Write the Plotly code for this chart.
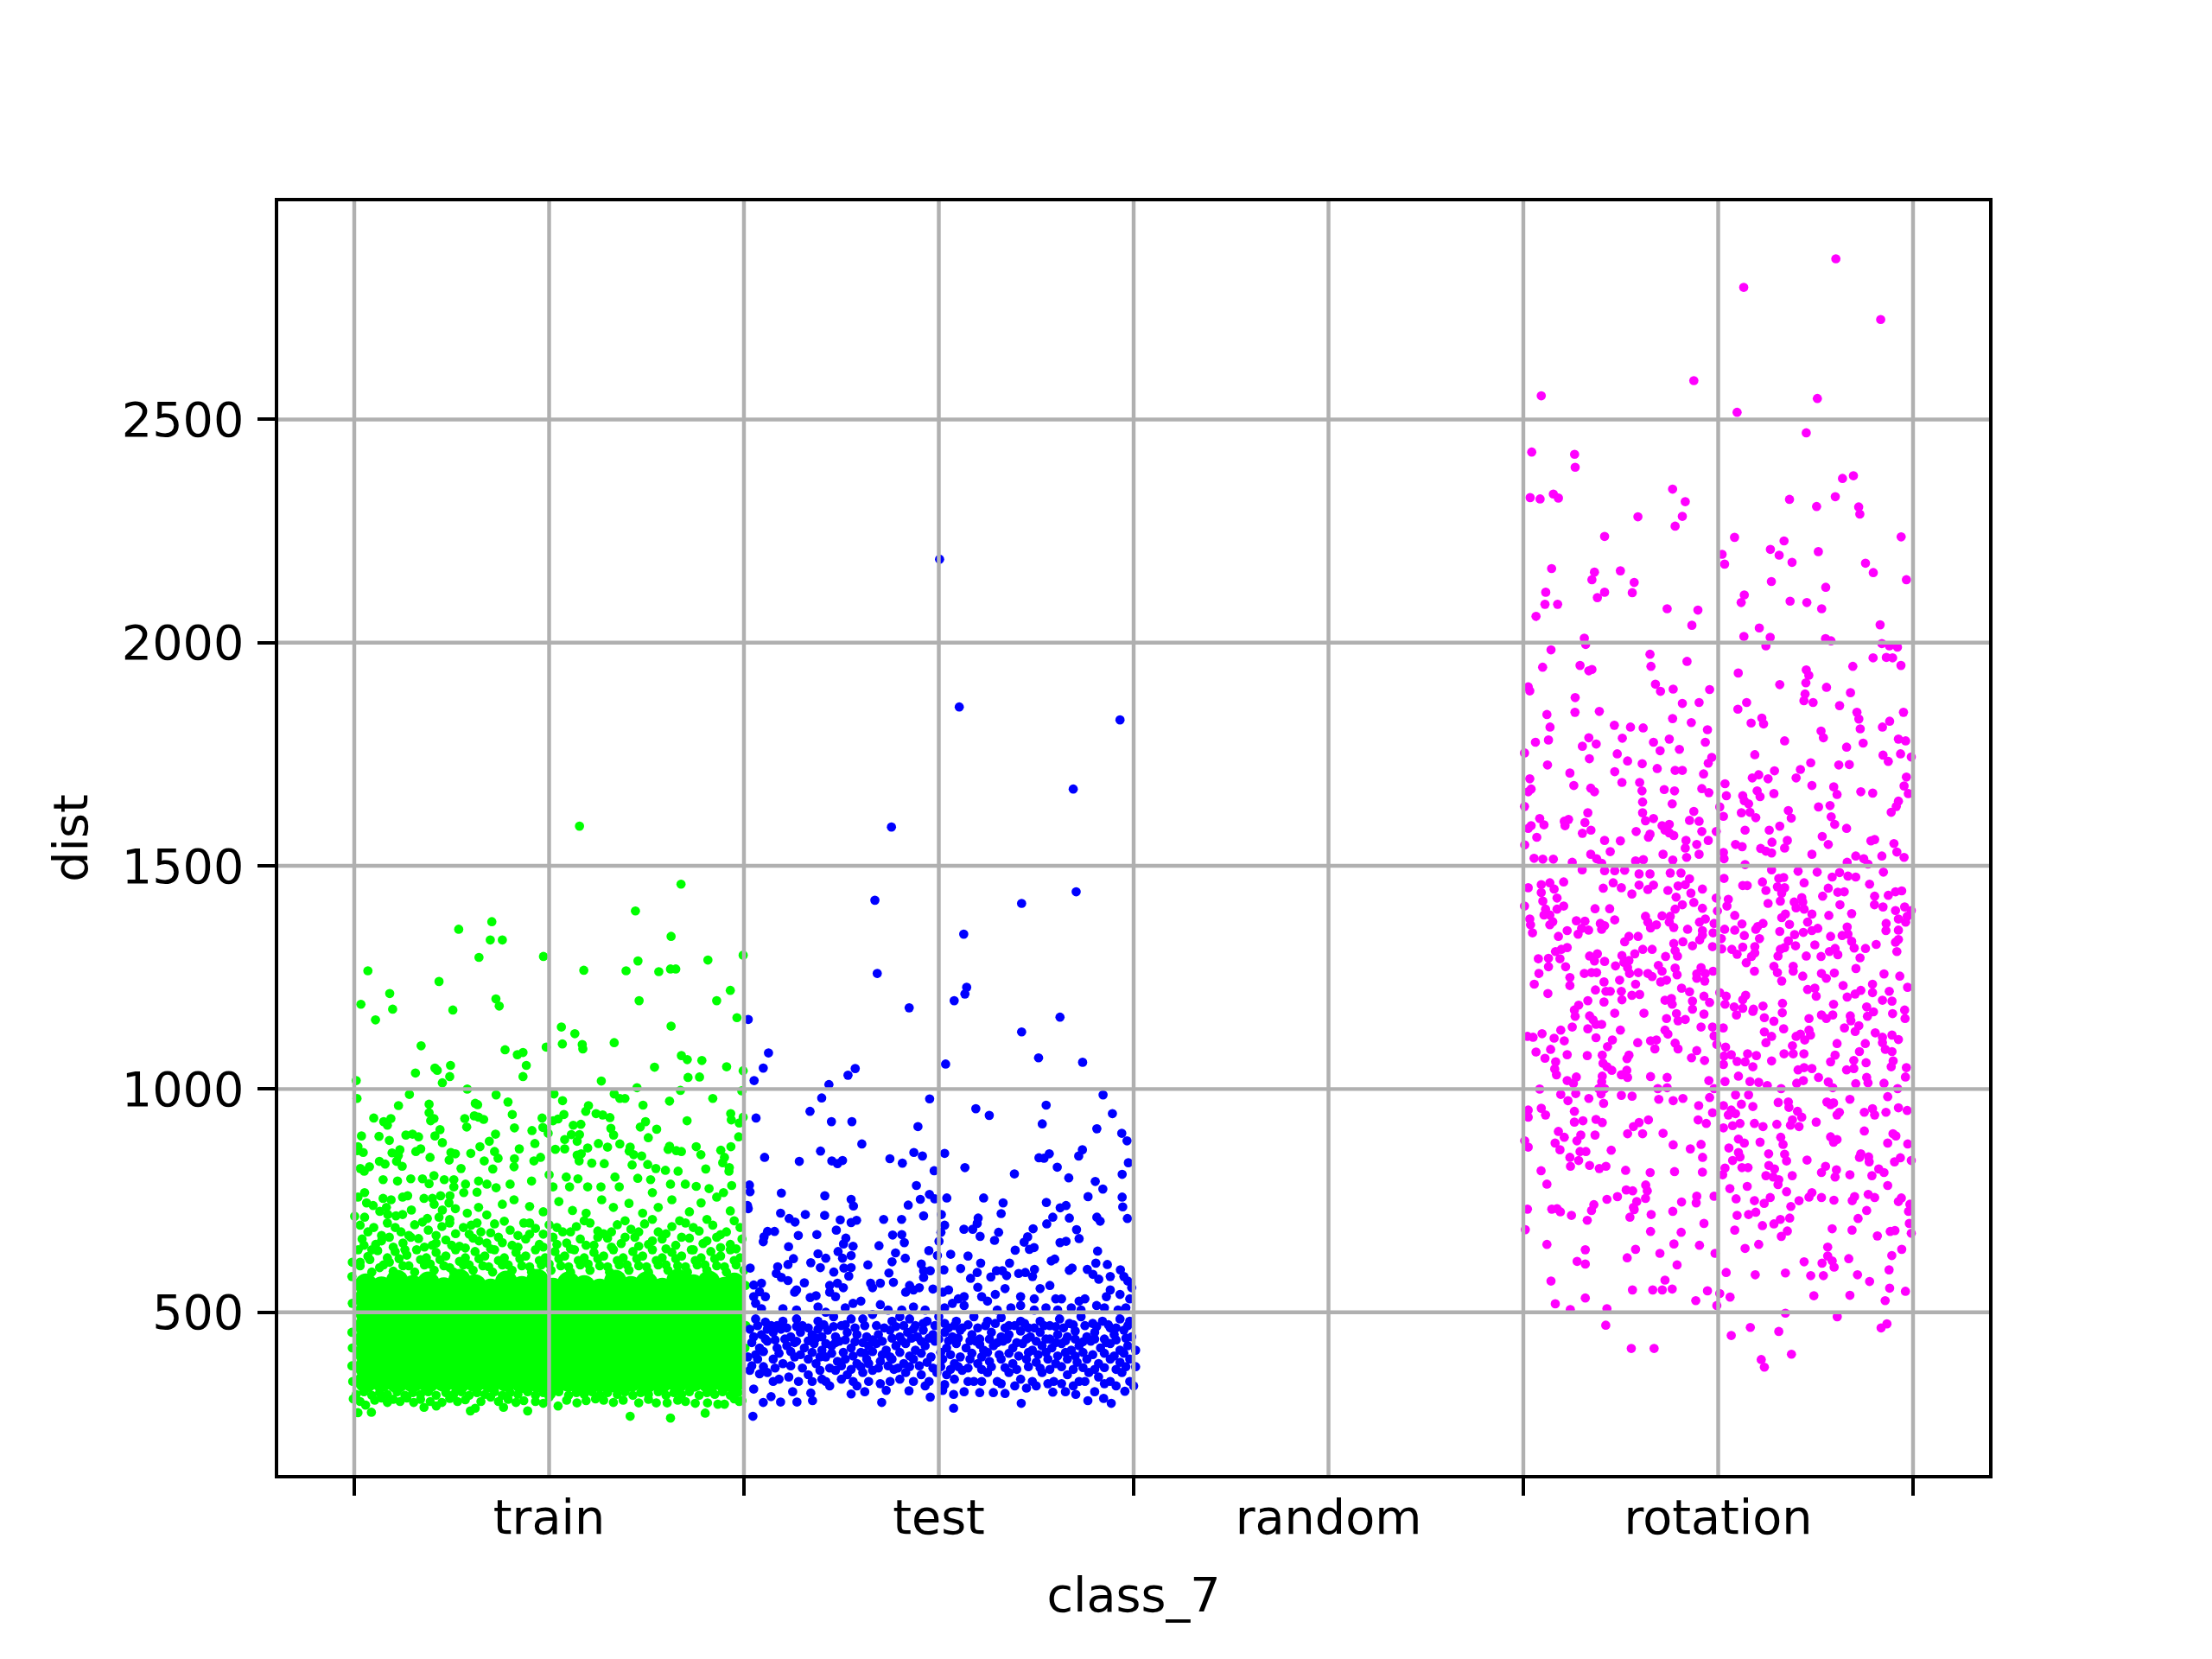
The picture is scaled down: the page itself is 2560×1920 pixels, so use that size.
import plotly.graph_objects as go

x_labels = ["train", "test", "random", "rotation"]
x_label_pos = [1, 3, 5, 7]
x_tick_pos = [0, 2, 4, 6, 8]
y_ticks = [500, 1000, 1500, 2000, 2500]

train_mass = [(.06,345),(.14,347),(.22,344),(.3,346),(.38,345),(.46,347),(.54,344),(.62,346),(.7,345),(.78,347),(.86,344),(.94,346),(1.02,345),(1.1,347),(1.18,344),(1.26,346),(1.34,345),(1.42,347),(1.5,344),(1.58,346),(1.66,345),(1.74,347),(1.82,344),(1.9,346),(1.95,345),
(.06,377),(.14,376),(.22,378),(.3,376),(.38,377),(.46,376),(.54,378),(.62,376),(.7,377),(.78,376),(.86,378),(.94,376),(1.02,377),(1.1,376),(1.18,378),(1.26,376),(1.34,377),(1.42,376),(1.5,378),(1.58,376),(1.66,377),(1.74,376),(1.82,378),(1.9,376),(1.95,377),
(.06,408),(.14,407),(.22,409),(.3,407),(.38,408),(.46,407),(.54,409),(.62,407),(.7,408),(.78,407),(.86,409),(.94,407),(1.02,408),(1.1,407),(1.18,409),(1.26,407),(1.34,408),(1.42,407),(1.5,409),(1.58,407),(1.66,408),(1.74,407),(1.82,409),(1.9,407),(1.95,408),
(.06,439),(.14,438),(.22,440),(.3,438),(.38,439),(.46,438),(.54,440),(.62,438),(.7,439),(.78,438),(.86,440),(.94,438),(1.02,439),(1.1,438),(1.18,440),(1.26,438),(1.34,439),(1.42,438),(1.5,440),(1.58,438),(1.66,439),(1.74,438),(1.82,440),(1.9,438),(1.95,439),
(.06,470),(.14,469),(.22,471),(.3,469),(.38,470),(.46,469),(.54,471),(.62,469),(.7,470),(.78,469),(.86,471),(.94,469),(1.02,470),(1.1,469),(1.18,471),(1.26,469),(1.34,470),(1.42,469),(1.5,471),(1.58,469),(1.66,470),(1.74,469),(1.82,471),(1.9,469),(1.95,470),
(.06,501),(.14,500),(.22,502),(.3,500),(.38,501),(.46,500),(.54,502),(.62,500),(.7,501),(.78,500),(.86,502),(.94,500),(1.02,501),(1.1,500),(1.18,502),(1.26,500),(1.34,501),(1.42,500),(1.5,502),(1.58,500),(1.66,501),(1.74,500),(1.82,502),(1.9,500),(1.95,501),
(.06,532),(.14,531),(.22,533),(.3,531),(.38,532),(.46,531),(.54,533),(.62,531),(.7,532),(.78,531),(.86,533),(.94,531),(1.02,532),(1.1,531),(1.18,533),(1.26,531),(1.34,532),(1.42,531),(1.5,533),(1.58,531),(1.66,532),(1.74,531),(1.82,533),(1.9,531),(1.95,532),
(.06,562),(.14,555),(.22,570),(.3,558),(.38,566),(.46,553),(.54,572),(.62,560),(.7,550),(.78,568),(.86,556),(.94,572),(1.02,552),(1.1,566),(1.18,558),(1.26,550),(1.34,570),(1.42,556),(1.5,566),(1.58,552),(1.66,572),(1.74,560),(1.82,568),(1.9,554),(1.95,564)]

train_points = [(1.156,1589),(1.677,1459),(1.443,1399),(1.626,1342),(.706,1375),(.536,1358),(.698,1334),(.76,1334),(.64,1295),(.971,1297),(1.996,1300),(1.456,1287),(1.815,1289),(.07,1265),(1.178,1266),(1.395,1265),(1.563,1263),(1.623,1269),(1.65,1269),(.435,1241),(.182,1214),(.034,1190),(.197,1179),(.109,1155),(.506,1177),(.727,1202),(.744,1186),(1.462,1198),(1.86,1198),(1.93,1221),(1.964,1160),(1.626,1141),(1.063,1139),(1.132,1124),(1.068,1101),(1.17,1100),(1.173,1090),(1.334,1104),(.985,1094),(.343,1097),(.774,1088),(.837,1077),(.866,1082),(.883,1053),(.866,1028),(.494,1053),(.414,1047),(.426,1042),(.49,1028),(.452,1014),(.314,1036),(.01,1019),(1.268,1018),(1.541,1049),(1.679,1075),(1.709,1066),(1.784,1064),(1.911,1050),(1.996,1041),(1.713,1026),(1.772,1027),(1.451,1003),(1.674,997),(.58,1000),(1.989,996),
(.283,988),(.728,987),(1.025,989),(1.334,989),(1.363,979),(1.389,979),(.014,979),(1.069,974),(.789,971),(1.84,979),(1.618,973),(.384,966),(.227,963),(.621,968),(.633,965),(1.202,963),(1.482,964),(1.188,950),(1.241,945),(1.275,942),(1.312,936),(.384,947),(.811,943),(1.076,943),(1.932,945),(.1,935),(.188,934),(.151,927),(.17,919),(.392,929),(.409,934),(.567,934),(.616,940),(.638,937),(.664,932),(.964,935),(1.046,933),(1.02,929),(1.495,927),(1.468,915),(1.552,910),(1.708,929),(1.935,931),(1.996,937),(1.976,924),(.577,915),(.44,909),(.414,895),(.822,913),(.912,907),(.968,914),(.995,901),(1.124,919),(1.163,921),(1.317,912),(1.331,897),(1.114,898),(1.156,898),(.037,895),(.127,894),(.18,885),(.265,897),(.299,899),(.33,893),(.725,899),(.693,883),(.452,880),(1.08,887),(1.144,883),(1.509,891),(1.973,893),(.927,878),(1.363,877),(1.253,878),(1.3,870),(1.198,868),(.645,871),(1.618,872),(1.755,871),(1.933,871),(.847,866),(1.032,865),(1.08,866),(1.416,870),(1.611,865),(1.653,862),(1.679,860),(1.881,863),(.019,871),(.015,862),(.046,858),(.194,857),(.234,864),(.226,851),(.316,860),(.341,866),(.496,858),(.519,855),(.598,856),(.72,860),(.389,847),(.487,841),(.738,845),(.956,847),(.922,839),(.822,844),(1.144,852),(1.165,855),(1.154,839),(1.219,834),(1.283,833),(1.411,861),(1.434,853),(1.475,850),(1.779,853),(1.9,847),(1.891,835),(.129,838),(.158,832),(.217,838),(.246,827),(.078,826),(.031,822),(.051,816),(.667,839),(.548,822),(.711,821),(.82,826),(1.426,830),(1.506,831),(1.548,822),(1.804,821),(1.925,824),(1.597,818),(1.662,816),(1.923,816),
(.148,797),(.222,794),(.29,799),(.35,799),(.409,806),(.384,788),(.462,797),(.511,797),(.511,781),(.571,787),(.638,794),(.681,787),(.728,779),(.8,787),(.91,794),(1.0,808),(1.088,803),(1.148,799),(1.02,781),(1.105,781),(1.198,781),(1.266,781),(1.338,803),(1.36,781),(1.455,800),(1.521,797),(1.53,768),(1.623,787),(1.699,787),(1.755,782),(1.821,777),(1.895,768),(1.937,784),
(.053,768),(.019,758),(.148,755),(.248,758),(.189,752),(.274,761),(.165,735),(.063,745),(.097,739),(.131,726),(.053,713),(.002,715),(.358,755),(.443,761),(.401,755),(.491,761),(.562,768),(.63,769),(.486,745),(.41,742),(.452,729),(.519,732),(.638,735),(.293,729),(.248,719),(.214,716),(.172,719),(.375,710),(.435,713),(.49,708),(.58,722),(.68,718),(.76,742),(.82,752),(.9,737),(.97,725),(1.05,748),(1.12,728),(1.19,722),(1.27,752),(1.33,735),(1.41,744),(1.48,722),(1.56,735),(1.63,752),(1.72,725),(1.78,745),(1.86,758),(1.93,727),
(.03,695),(.1,690),(.17,700),(.24,680),(.31,696),(.38,684),(.45,692),(.52,676),(.6,695),(.65,680),(.72,698),(.8,684),(.87,700),(.93,688),(1.0,696),(1.07,680),(1.14,692),(1.21,700),(1.28,676),(1.35,696),(1.42,686),(1.49,698),(1.56,680),(1.63,692),(1.7,700),(1.77,682),(1.84,695),(1.91,680),(1.98,690),
(.04,664),(.11,652),(.18,668),(.25,655),(.33,665),(.4,650),(.47,662),(.54,648),(.61,666),(.68,655),(.74,668),(.81,650),(.88,664),(.95,652),(1.02,668),(1.09,655),(1.16,664),(1.23,650),(1.3,666),(1.37,654),(1.44,668),(1.51,652),(1.58,664),(1.65,650),(1.72,666),(1.79,654),(1.86,668),(1.93,652),(1.99,664),
(.02,640),(.07,625),(.12,638),(.17,622),(.21,636),(.27,628),(.32,640),(.37,622),(.42,634),(.47,626),(.52,640),(.57,622),(.62,636),(.67,626),(.72,640),(.77,622),(.83,634),(.88,626),(.93,640),(.98,622),(1.03,636),(1.08,626),(1.13,640),(1.18,622),(1.23,634),(1.28,626),(1.33,640),(1.38,622),(1.43,636),(1.48,626),(1.53,640),(1.58,622),(1.63,634),(1.68,626),(1.73,640),(1.78,622),(1.83,636),(1.88,626),(1.93,640),(1.98,622),
(.03,604),(.09,590),(.15,606),(.2,592),(.25,604),(.31,590),(.36,606),(.41,594),(.46,604),(.51,590),(.56,606),(.61,594),(.66,604),(.71,590),(.76,606),(.81,594),(.86,604),(.91,590),(.96,606),(1.01,594),(1.06,604),(1.11,590),(1.16,606),(1.21,594),(1.26,604),(1.31,590),(1.36,606),(1.41,594),(1.46,604),(1.51,590),(1.56,606),(1.61,594),(1.66,604),(1.71,590),(1.76,606),(1.81,594),(1.86,604),(1.91,590),(1.96,606),(2.0,594),
(-.01,612),(-.012,580),(-.01,520),(-.012,455),(-.01,420),(-.012,380),(-.008,345),(2.008,560),(2.01,470),(-.005,306),(2.005,420),
(.019,275),(.088,276),(.358,287),(.421,290),(.596,279),(.621,285),(.766,287),(.89,279),(1.046,290),(1.143,297),(1.238,306),(1.416,267),(1.623,263),(1.801,274),(1.606,297),(1.66,303),(1.813,297),(1.866,294),(1.9,294),(1.976,300),(.058,292),(.03,300),(.105,303),(.14,308),(.17,298),(.2,305),(.235,300),(.27,308),(.305,298),(.34,305),(.39,300),(.45,298),(.49,307),(.53,300),(.57,304),(.65,300),(.7,310),(.74,300),(.79,305),(.83,298),(.87,302),(.93,300),(.97,296),(1.0,310),(1.09,303),(1.19,302),(1.28,303),(1.33,298),(1.38,303),(1.46,297),(1.51,305),(1.55,297),(1.7,300),(1.75,296),(1.95,306),(1.99,302),
(.01,316),(.05,322),(.09,314),(.13,320),(.17,316),(.22,322),(.26,314),(.3,320),(.34,316),(.38,322),(.42,314),(.47,320),(.51,316),(.55,322),(.59,314),(.63,320),(.67,316),(.72,322),(.76,314),(.8,320),(.84,316),(.89,322),(.93,314),(.97,320),(1.01,316),(1.05,322),(1.1,314),(1.14,320),(1.18,316),(1.22,322),(1.26,314),(1.3,320),(1.35,316),(1.39,322),(1.43,314),(1.47,320),(1.51,316),(1.56,322),(1.6,314),(1.64,320),(1.68,316),(1.72,322),(1.77,314),(1.81,320),(1.85,316),(1.89,322),(1.93,314),(1.97,320),
(.03,612),(.08,618),(.13,600),(.18,612),(.23,620),(.28,604),(.34,618),(.39,608),(.44,618),(.49,600),(.54,614),(.59,606),(.64,620),(.69,602),(.74,616),(.79,606),(.85,620),(.9,602),(.95,616),(1.0,608),(1.05,620),(1.1,602),(1.15,616),(1.2,608),(1.25,620),(1.3,602),(1.35,616),(1.4,606),(1.45,620),(1.5,602),(1.55,616),(1.6,606),(1.65,620),(1.7,602),(1.75,616),(1.8,606),(1.85,620),(1.9,602),(1.95,616),
(.05,650),(.09,640),(.14,660),(.2,646),(.26,640),(.29,668),(.36,646),(.42,655),(.5,650),(.57,644),(.59,675),(.64,660),(.7,642),(.76,656),(.84,646),(.9,675),(.97,646),(1.04,652),(1.11,642),(1.19,650),(1.25,668),(1.32,646),(1.39,668),(1.46,648),(1.53,660),(1.6,642),(1.68,668),(1.74,640),(1.81,660),(1.88,645),(1.96,642),
(.07,680),(.14,672),(.21,690),(.28,672),(.35,702),(.42,672),(.49,700),(.56,690),(.63,700),(.7,678),(.77,704),(.84,672),(.9,700),(.97,675),(1.04,690),(1.11,680),(1.18,705),(1.25,682),(1.32,680),(1.39,705),(1.46,680),(1.53,708),(1.6,676),(1.67,705),(1.74,690),(1.81,708),(1.88,674),(1.95,705)]

test_points = [(3.004,2187),(3.105,1856),(3.93,1827),(3.69,1672),(2.757,1587),(2.672,1423),(3.705,1442),(3.425,1416),(3.128,1347),(2.684,1259),(3.143,1228),(3.134,1213),(3.079,1198),(2.848,1182),(3.622,1161),(3.425,1128),(3.512,1070),(3.738,1060),(3.035,1056),
(2.022,1156),(2.126,1081),(2.099,1047),(2.052,1019),(2.571,1046),(2.534,1031),(2.436,1010),(2.399,980),(2.953,978),(3.843,987),(3.551,964),(3.19,956),(3.259,941),(3.891,945),(2.339,950),(2.449,927),(2.554,927),(2.062,935),(2.893,916),(3.531,922),(3.811,911),(3.939,901),(3.966,884),(2.605,877),(2.393,861),(2.106,847),(2.284,838),(2.451,839),(2.48,833),(2.506,840),(2.749,844),(2.813,834),(2.872,858),(2.916,850),(3.03,856),(2.976,817),(3.134,824),(3.388,810),(3.514,846),(3.54,845),(3.567,855),(3.608,825),(3.667,801),(3.718,850),(3.737,864),(3.973,835),(3.941,809),(3.803,793),(3.842,776),(3.766,759),(3.941,758),(3.944,736),(3.968,710),
(2.028,785),(2.031,770),(2.192,767),(2.415,761),(2.55,753),(2.562,738),(2.885,784),(2.905,753),(2.952,764),(2.979,754),(3.041,756),(3.23,756),(3.33,745),(3.32,721),(2.843,740),(2.922,716),(3.013,719),(3.552,746),(3.623,734),(3.653,739),(3.585,713),(3.554,698),(3.67,711),(3.707,685),(3.72,665),(3.811,713),(3.828,704),(2.018,739),(2.022,732),(2.188,722),(2.232,710),(2.262,702),(2.315,719),(2.414,717),(2.494,707),(2.55,701),(2.578,706),(2.717,708),(2.809,708),(3.03,695),(3.011,679),(3.129,686),(3.174,686),(3.197,699),(3.202,711),(3.212,670),(3.307,679),(3.286,661),(3.484,687),(3.456,669),(3.438,657),
(2.121,681),(2.157,681),(2.099,658),(2.103,669),(2.279,672),(2.374,674),(2.474,684),(2.523,666),(2.511,653),(2.56,648),(2.763,673),(2.81,674),(2.823,656),(2.693,649),(3.001,659),(2.229,647),(3.622,656),(3.653,659),(3.465,641),(3.489,645),(3.392,639),(3.815,637),
(2.38,631),(2.483,636),(2.55,627),(2.42,621),(2.254,620),(2.778,633),(2.828,621),(2.949,638),(2.993,627),(3.061,630),(3.15,626),(2.76,613),(2.226,607),(2.343,611),(2.506,621),(3.215,610),(3.363,610),(3.577,615),(3.595,619),(3.806,610),(3.865,607),(2.636,606),(2.91,608),
(2.032,599),(2.173,602),(2.392,600),(2.461,590),(2.513,599),(2.55,600),(2.538,581),(2.166,587),(2.192,578),(2.226,571),(2.744,588),(2.767,567),(2.922,593),(2.956,593),(2.922,578),(3.112,598),(3.026,595),(3.197,589),(3.163,576),(3.267,579),(3.296,593),(3.326,593),(3.348,582),(3.41,587),(3.444,589),(3.491,596),(3.481,580),(3.67,594),(3.684,599),(3.762,596),(3.791,585),(3.821,574),(3.88,580),(3.932,595),(3.95,580),
(2.05,561),(2.09,565),(2.08,546),(2.05,535),(2.11,535),(2.06,520),(2.31,566),(2.27,550),(2.26,545),(2.44,560),(2.48,565),(2.51,555),(2.47,535),(2.44,545),(2.37,537),(2.34,533),(2.65,565),(2.7,565),(2.66,555),(2.85,560),(2.87,550),(2.9,555),(2.83,545),(2.97,552),(3.02,545),(3.05,550),(3.1,530),(3.13,535),(3.2,556),(3.22,535),(3.25,525),(3.29,540),(3.34,553),(3.42,535),(3.49,530),(3.52,553),(3.57,560),(3.6,530),(3.63,530),(3.72,525),(3.75,530),(3.86,535),(3.88,550),(3.93,540),(3.97,570),(3.99,555),(3.98,530),
(2.09,508),(2.2,508),(2.27,505),(2.38,512),(2.42,500),(2.52,510),(2.56,520),(2.6,525),(2.7,517),(2.74,505),(2.81,505),(2.87,512),(2.93,505),(3.03,510),(3.07,520),(3.13,515),(3.3,505),(3.37,510),(3.42,515),(3.49,505),(3.55,510),(3.61,505),(3.68,510),(3.73,505),(3.81,515),(3.85,510),(3.92,505),(3.96,510),
(2.06,485),(2.11,478),(2.14,470),(2.2,480),(2.27,485),(2.3,470),(2.38,480),(2.46,490),(2.5,470),(2.55,485),(2.61,485),(2.66,495),(2.76,480),(2.8,490),(2.85,485),(2.88,470),(2.94,480),(3.0,490),(3.03,475),(3.09,480),(3.12,465),(3.18,490),(3.25,480),(3.32,488),(3.36,470),(3.42,480),(3.46,465),(3.52,480),(3.57,470),(3.62,485),(3.67,475),(3.73,490),(3.79,475),(3.84,480),(3.88,465),(3.93,485),(3.97,470),
(2.03,462),(2.09,450),(2.15,455),(2.19,462),(2.24,445),(2.29,455),(2.35,450),(2.4,445),(2.43,460),(2.47,445),(2.53,455),(2.58,450),(2.63,445),(2.69,450),(2.75,460),(2.8,445),(2.84,455),(2.89,445),(2.92,460),(2.97,450),(3.03,455),(3.07,445),(3.11,460),(3.17,450),(3.21,440),(3.27,455),(3.32,445),(3.36,450),(3.42,458),(3.47,445),(3.52,455),(3.57,440),(3.61,450),(3.66,445),(3.7,458),(3.76,445),(3.8,455),(3.85,440),(3.9,450),(3.95,460),(3.99,445),
(2.04,432),(2.08,420),(2.12,435),(2.17,420),(2.22,425),(2.27,435),(2.31,420),(2.36,430),(2.4,415),(2.45,425),(2.49,435),(2.55,420),(2.6,410),(2.64,425),(2.68,430),(2.73,415),(2.78,425),(2.83,430),(2.88,415),(2.93,425),(2.98,435),(3.04,420),(3.09,430),(3.14,420),(3.19,435),(3.23,415),(3.28,425),(3.33,435),(3.38,420),(3.43,430),(3.48,415),(3.53,425),(3.58,420),(3.63,430),(3.68,415),(3.72,425),(3.78,435),(3.83,420),(3.88,430),(3.93,415),(3.97,425),(4.01,415),
(2.02,400),(2.07,395),(2.15,395),(2.2,385),(2.26,400),(2.33,395),(2.37,385),(2.42,400),(2.48,390),(2.52,395),(2.58,385),(2.63,395),(2.7,390),(2.76,395),(2.82,385),(2.87,395),(2.94,388),(3.02,395),(3.08,385),(3.16,395),(3.2,385),(3.26,390),(3.32,395),(3.38,385),(3.45,395),(3.5,388),(3.56,395),(3.6,385),(3.66,395),(3.71,388),(3.76,395),(3.82,385),(3.88,395),(3.93,388),(3.98,395),
(2.03,370),(2.08,362),(2.12,365),(2.18,350),(2.33,360),(2.35,345),(2.47,370),(2.53,360),(2.56,345),(2.61,365),(2.66,370),(2.77,372),(2.83,365),(2.91,360),(2.95,345),(2.99,365),(3.04,360),(3.08,350),(3.12,370),(3.18,345),(3.25,365),(3.3,345),(3.36,365),(3.42,350),(3.48,345),(3.53,365),(3.59,345),(3.66,360),(3.72,345),(3.77,365),(3.82,355),(3.88,345),(3.94,365),(3.98,345),
(2.046,267),(2.707,298),(3.076,285),(2.956,310),(3.423,296),(3.765,302),(3.846,307),(3.885,296),(2.099,298),(2.139,311),(2.188,299),(2.272,299),(2.352,302),(2.343,319),(2.55,317),(2.847,324),(3.076,316),(3.703,316),(3.585,321),(3.955,323),(2.05,328),(2.25,322),(2.44,335),(2.62,322),(2.73,325),(3.02,325),(3.13,322),(3.21,320),(3.28,320),(3.34,318),(3.45,330),(3.65,322),(3.8,322),
(2.06,405),(2.1,412),(2.18,408),(2.24,412),(2.29,405),(2.35,410),(2.39,400),(2.45,408),(2.51,410),(2.56,402),(2.62,408),(2.66,412),(2.71,405),(2.75,400),(2.8,410),(2.85,402),(2.91,408),(2.96,400),(3.01,410),(3.06,405),(3.11,400),(3.17,408),(3.22,400),(3.25,410),(3.31,405),(3.36,408),(3.41,402),(3.46,410),(3.51,405),(3.55,410),(3.61,402),(3.65,410),(3.7,402),(3.74,410),(3.79,405),(3.85,408),(3.9,402),(3.95,408),
(2.05,445),(2.11,440),(2.16,438),(2.21,440),(2.26,432),(2.33,436),(2.37,442),(2.42,430),(2.47,432),(2.52,438),(2.57,434),(2.61,432),(2.66,438),(2.71,435),(2.76,442),(2.81,436),(2.86,442),(2.91,435),(2.95,442),(3.0,440),(3.05,436),(3.1,442),(3.16,436),(3.21,428),(3.26,440),(3.3,432),(3.35,440),(3.4,432),(3.45,440),(3.5,435),(3.55,440),(3.6,432),(3.65,436),(3.7,440),(3.74,434),(3.8,440),(3.86,432),(3.91,438),(3.96,442),
(2.07,470),(2.12,462),(2.17,470),(2.22,465),(2.27,468),(2.33,465),(2.38,462),(2.41,472),(2.46,468),(2.52,472),(2.57,465),(2.62,470),(2.68,470),(2.72,465),(2.78,468),(2.82,470),(2.87,462),(2.92,475),(2.98,470),(3.05,465),(3.08,470),(3.15,472),(3.2,465),(3.24,470),(3.29,475),(3.34,465),(3.39,470),(3.44,475),(3.49,465),(3.54,470),(3.6,468),(3.64,465),(3.69,472),(3.75,470),(3.81,468),(3.87,472),(3.91,465),(3.98,480),
(2.04,380),(2.1,378),(2.16,375),(2.24,380),(2.3,375),(2.39,370),(2.44,375),(2.5,380),(2.55,372),(2.6,378),(2.64,385),(2.69,375),(2.74,380),(2.79,375),(2.85,378),(2.9,380),(2.97,375),(3.01,378),(3.06,372),(3.1,378),(3.15,375),(3.22,372),(3.27,378),(3.34,376),(3.4,372),(3.46,378),(3.52,375),(3.57,372),(3.63,378),(3.69,372),(3.74,376),(3.8,372),(3.85,376),(3.91,372),(3.96,378),(4.01,378),
(2.15,345),(2.23,355),(2.28,345),(2.4,350),(2.42,345),(2.5,350),(2.58,335),(2.64,345),(2.7,340),(2.75,345),(2.8,350),(2.87,345),(2.93,335),(3.03,338),(3.15,345),(3.22,345),(3.32,340),(3.39,335),(3.5,335),(3.56,340),(3.63,340),(3.69,335),(3.75,345),(3.85,340),(3.91,335),(4.0,335)]

rotation_points = [(7.604,2860),(7.131,2796),(7.834,2724),(6.875,2587),(6.092,2553),(7.509,2547),(7.097,2516),(7.452,2470),(6.043,2427),(6.263,2422),(6.266,2393),(7.694,2374),(7.638,2368),(6.766,2344),(6.035,2325),(6.086,2322),(6.154,2333),(6.18,2324),(6.831,2316),(7.366,2321),(7.601,2327),(7.505,2305),(7.721,2304),(7.727,2288),(6.816,2283),(6.588,2282),(6.779,2261),(6.417,2238),(7.084,2236),(7.939,2237),(7.338,2228),(7.268,2209),(7.313,2196),(7.02,2198),(7.033,2176),(7.379,2180),(7.514,2204),(7.756,2178),(7.796,2157),(6.145,2166),(6.365,2158),(6.352,2141),(6.498,2161),(6.569,2135),(6.559,2112),(7.273,2137),(7.966,2141),(7.552,2124),(6.115,2113),(6.417,2113),(6.38,2101),(6.111,2086),(6.176,2086),(7.134,2107),(7.118,2090),(7.369,2093),(7.455,2090),(7.531,2076),(6.065,2059),(6.738,2076),(6.896,2073),(6.865,2039),(7.831,2040),(7.211,2033),(7.132,2014),(7.267,2012),(6.313,2010),(6.32,1996),(7.245,1993),(7.551,2009),(7.579,2004),(7.84,1998),(7.879,1993),(7.92,1990),(6.142,1984),(6.65,1974),(7.795,1966),(7.863,1967),(7.895,1966),(6.099,1945),(6.291,1949),(6.336,1937),(6.352,1940),(6.655,1947),(6.84,1958),(7.691,1947),(7.938,1949),(7.103,1932),(7.452,1939),(7.465,1927),(7.45,1910),(6.025,1901),(6.033,1892),(6.678,1907),(6.704,1891),(6.769,1896),(6.956,1895),(7.316,1906),(7.556,1900),(7.679,1888),(6.266,1877),(7.446,1885),(7.44,1870),(7.487,1866),(6.816,1864),(6.902,1866),(7.146,1866),(7.101,1851),(7.623,1859),(6.265,1844),(6.39,1846),(6.121,1839),(7.712,1844),(7.722,1829),(7.951,1844),(6.766,1830),(6.862,1821),(7.224,1831),(7.169,1820),(7.233,1818),(7.88,1824),(6.137,1811),(6.467,1815),(6.55,1811),(6.615,1809),(6.945,1805),(7.729,1807),(7.843,1811),(7.528,1802),
(6.062,1777),(6.129,1782),(6.336,1787),(6.508,1786),(6.668,1777),(6.749,1784),(6.934,1777),(7.341,1780),(7.54,1787),(7.744,1775),(7.925,1784),(7.962,1780),(6.006,1753),(6.303,1768),(6.374,1773),(6.702,1758),(6.801,1761),(6.482,1751),(6.339,1740),(6.535,1735),(7.659,1766),(7.188,1749),(7.846,1748),(7.936,1751),(7.991,1744),(6.967,1743),(6.949,1730),(6.124,1726),(6.61,1729),(6.687,1718),(7.475,1731),(7.873,1734),(7.619,1726),(7.673,1727),(6.239,1708),(6.469,1711),(6.779,1714),(6.816,1714),(6.925,1706),(7.289,1713),(7.422,1716),(6.033,1695),(7.208,1704),(7.175,1697),(7.256,1695),(7.4,1697),(7.966,1699),(6.259,1680),(6.506,1687),(6.597,1687),(7.035,1684),(7.481,1680),(7.593,1677),(7.954,1679),(6.346,1674),(6.365,1666),(6.04,1672),(6.025,1666),(6.609,1668),(6.723,1671),(6.776,1668),(6.916,1673),(6.952,1664),(7.2,1668),(7.286,1662),(7.042,1657),(7.126,1657),(7.215,1655),(7.61,1660),(7.732,1666),(7.793,1663),(7.976,1662),(6.612,1643),(6.764,1639),(7.156,1639),(7.134,1646),(7.925,1645),(6.006,1633),(7.008,1632),(7.515,1632),(7.574,1635),(7.914,1633),
(6.331,1619),(6.612,1619),(6.875,1622),(7.36,1624),(7.119,1619),(7.163,1620),(7.888,1620),(7.027,1611),(7.193,1608),(7.375,1607),(7.58,1610),(6.084,1606),(6.232,1604),(6.21,1600),(6.668,1606),(6.853,1602),(6.902,1600),(6.627,1601),(6.316,1597),(6.106,1592),(6.04,1590),(6.025,1584),(6.214,1590),(6.712,1590),(6.749,1593),(7.598,1593),(7.316,1589),(6.347,1580),(6.727,1580),(7.138,1580),(7.262,1580),(7.659,1584),(6.579,1577),(6.916,1577),(6.99,1577),(6.303,1573),(6.749,1574),(6.65,1571),(6.772,1568),(6.069,1564),(6.642,1564),(7.534,1566),(6.835,1557),(6.417,1557),(6.498,1556),(6.949,1557),(7.355,1557),(7.276,1553),(7.784,1556),(7.803,1559),(6.007,1547),(7.089,1548),(7.123,1543),(7.565,1548),(7.902,1550),(6.89,1548),(6.831,1540),(7.341,1540),(6.446,1532),(7.218,1539),(7.245,1533),(7.274,1529),(7.481,1526),(6.717,1526),(6.902,1526),(7.917,1531),(7.954,1519),(6.346,1526),(6.838,1519),(7.027,1530),(7.03,1516),(7.84,1522),(7.706,1522),(7.747,1516),(6.055,1517),(6.1,1515),(6.154,1515),(6.376,1516),(6.767,1513),(6.616,1514),(6.576,1511),(6.251,1508),(6.402,1506),(7.662,1508),(7.138,1503),(7.769,1504),
(6.302,1491),(6.417,1489),(6.469,1489),(6.52,1490),(7.274,1491),(7.41,1488),(7.508,1486),(7.848,1486),(6.594,1482),(6.65,1482),(6.754,1484),(6.809,1484),(7.623,1485),(7.585,1475),(7.666,1477),(7.706,1475),(7.03,1472),(7.311,1472),(7.336,1474),(6.853,1471),(6.207,1464),(6.136,1462),(6.461,1462),(7.227,1464),(7.441,1462),(6.092,1458),(6.503,1451),(6.594,1457),(6.668,1457),(6.794,1455),(6.831,1458),(7.777,1459),(6.025,1451),(6.158,1448),(6.41,1450),(6.639,1447),(7.126,1456),(7.149,1456),(7.304,1453),(7.341,1451),(7.245,1445),(7.565,1450),(6.919,1448),(6.742,1445),(7.614,1441),(7.647,1442),(6.092,1440),(7.326,1439),(6.557,1437),(7.91,1442),(7.942,1444),(7.873,1434),(6.86,1439),(7.803,1432),(6.784,1430),(7.536,1432),(7.429,1429),(6.173,1428),(6.1,1421),(6.99,1428),(7.052,1425),(7.319,1421),(7.39,1419),(6.875,1418),(7.625,1413),(7.434,1419),(7.802,1413),(6.816,1413),(6.207,1410),(7.045,1410),(6.006,1410),(7.256,1416),(7.4,1406),(7.846,1408),(6.368,1404),(6.443,1404),(6.779,1403),(6.919,1405),(7.441,1403),(6.114,1403),(6.173,1403),(7.91,1400),(7.957,1408),(7.991,1400),(6.996,1399),(6.136,1390),(7.345,1392),(7.481,1392),(7.568,1389),(7.685,1393),(7.085,1389),(6.712,1388),(6.627,1387),(6.754,1387),(7.326,1384),(6.106,1390),(6.033,1381),(7.925,1381),(7.97,1387),(6.469,1379),(6.934,1381),(7.962,1374),(6.639,1374),(6.272,1377),(6.316,1376),(6.151,1375),(6.904,1374),(7.459,1374),(6.979,1371),(6.037,1368),(6.136,1368),(6.395,1371),(6.417,1366),(6.749,1374),(7.122,1370),(7.23,1371),(7.366,1369),(7.862,1371),(7.203,1364),(6.683,1368),(7.662,1363),(6.653,1361),(6.772,1362),(7.511,1360),(6.402,1358),(6.299,1360),(6.335,1356),(7.925,1356),(6.225,1355),(6.843,1358),(6.919,1355),(7.033,1358),(7.085,1356),(7.193,1358),(6.047,1350),(7.861,1355),(7.316,1353),(7.481,1355),(7.437,1351),(6.281,1347),(6.974,1350),(7.392,1346),(7.636,1344),(7.134,1344),(7.666,1347),(6.18,1342),(6.589,1342),(6.542,1342),(6.919,1345),(7.577,1342),(7.925,1335),(7.016,1337),(7.212,1337),(6.905,1334),(7.685,1331),(7.36,1332),(6.52,1330),(6.819,1330),(7.91,1329),
(6.772,1326),(7.496,1323),(7.811,1324),(6.868,1321),(6.225,1317),(6.971,1319),(7.126,1318),(7.188,1319),(7.397,1321),(7.698,1316),(7.341,1317),(7.756,1315),(7.018,1314),(6.195,1313),(6.613,1313),(6.661,1313),(7.07,1313),(7.319,1313),(7.6,1315),(7.571,1308),(6.165,1308),(6.779,1310),(7.188,1305),(7.917,1308),(6.38,1303),(6.34,1298),(6.572,1303),(6.791,1298),(7.307,1298),(7.614,1301),(7.528,1297),(7.097,1302),(7.728,1294),(7.171,1297),(7.452,1298),(6.506,1299),(6.73,1297),(6.077,1292),(6.129,1293),(6.188,1292),(6.365,1287),(6.417,1286),(6.542,1288),(6.516,1284),(7.144,1283),(6.129,1274),(6.693,1277),(6.217,1274),(6.473,1276),(7.286,1275),(7.385,1275),(7.707,1270),(6.912,1272),(6.779,1271),(6.535,1272),(6.712,1264),(7.186,1264),(7.304,1261),(6.08,1259),(6.313,1259),(6.376,1261),(6.545,1259),(6.59,1261),(6.639,1259),(6.789,1256),(6.89,1258),(6.934,1259),(6.974,1264),(7.385,1264),(7.53,1259),(7.596,1260),(7.851,1258),(7.932,1253),(6.35,1261),(6.661,1252),(7.434,1253),(7.326,1242),(6.414,1240),(6.239,1250),(6.735,1244),(6.705,1240),(6.494,1244),(6.89,1248),(6.931,1242),(7.555,1248),(6.056,1235),(6.239,1232),(7.641,1232),(7.972,1228),(7.792,1235),(6.576,1235),(7.459,1223),(7.496,1226),(6.37,1222),(6.812,1226),(6.424,1219),(6.446,1219),(7.008,1216),(7.732,1221),(7.792,1216),(7.703,1213),(6.126,1214),(6.853,1218),(6.503,1219),(7.141,1210),(6.557,1210),(6.597,1212),(7.503,1208),(7.662,1206),(6.927,1208),(7.041,1208),(7.878,1219),(7.126,1200),(6.506,1200),(6.727,1199),(6.76,1203),(6.331,1198),(6.414,1195),(7.843,1199),(7.892,1197),(6.868,1197),(6.956,1194),(7.33,1192),(7.035,1190),(7.592,1190),(6.284,1188),(6.764,1190),(7.23,1186),(7.762,1184),(7.082,1184),(6.868,1179),(7.181,1179),(7.126,1181),(6.262,1177),(7.957,1177),(7.797,1173),(7.329,1171),(7.094,1166),(6.469,1170),(6.619,1170),(6.927,1168),(6.786,1169),(7.895,1169),(7.588,1166),(7.53,1166),(6.266,1163),(7.678,1164),(6.34,1164),(7.766,1163),(7.178,1174),(7.959,1158),(6.735,1158),(7.466,1158),(7.237,1160),(7.555,1158),(6.831,1156),(6.358,1155),(6.794,1153),(7.286,1152),(6.402,1145),(7.681,1153),(6.373,1145),(7.722,1142),(6.251,1139),(6.912,1139),(6.971,1139),(7.026,1137),(7.336,1135),(7.648,1137),(6.192,1132),(6.331,1135),(6.498,1132),(6.727,1132),(7.466,1132),(7.703,1129),(7.237,1128),(7.806,1126),(7.422,1123),(6.742,1123),(7.474,1121),(7.892,1121),(6.096,1124),(6.021,1118),(6.05,1116),(6.373,1115),(6.979,1119),(7.843,1116),(7.4,1118),(7.274,1118),(6.158,1114),(7.925,1111),(7.444,1110),(6.457,1110),(6.21,1108),(6.683,1110),(7.245,1104),(7.843,1104),(6.587,1104),(6.779,1103),(7.61,1102),(6.653,1108),(6.993,1100),(7.381,1097),(7.755,1102),(6.432,1095),(7.038,1094),(6.675,1090),(6.14,1089),(6.794,1090),(7.858,1089),(6.89,1086),(7.725,1084),(6.065,1083),(7.385,1079),(7.44,1079),(7.338,1079),(6.225,1077),(7.892,1084),(6.405,1076),(6.328,1075),(7.067,1077),(7.151,1079),(7.196,1075),(7.03,1074),(7.6,1076),(6.542,1076),(6.863,1070),(6.111,1069),(6.532,1068),(7.577,1061),(7.696,1064),(6.93,1064),(7.097,1062),(7.274,1063),(6.166,1061),(7.759,1059),(6.409,1058),(7.138,1061),(7.898,1063),(7.027,1055),(7.481,1046),(7.178,1050),(6.429,1050),(7.441,1048),(7.888,1050),(7.966,1048),(7.696,1046),(6.161,1045),(6.454,1042),(7.41,1043),(7.659,1043),(6.531,1042),(6.17,1032),(7.104,1029),(7.961,1027),(6.503,1032),(6.535,1026),(6.272,1027),(6.653,1028),(6.738,1026),(7.515,1026),(7.762,1026),(6.405,1029),(6.225,1019),(6.952,1019),(7.437,1019),(7.769,1014),(7.035,1017),(7.163,1017),(7.208,1015),(7.403,1013),(7.565,1016),(6.257,1013),(6.402,1016),(7.706,1012),(7.851,1013),(7.252,1008),(7.588,1003),(6.084,1000),(6.417,1001),(6.387,1001),(6.69,1001),(6.738,1003),(7.323,1001),(7.921,1001),(6.979,1001),
(6.192,988),(6.269,990),(6.399,989),(6.503,986),(6.558,984),(6.695,977),(6.769,974),(6.819,979),(6.956,981),(7.089,987),(7.156,987),(7.676,977),(7.87,983),(6.336,979),(6.229,974),(6.412,968),(6.9,963),(7.119,966),(7.178,961),(7.308,970),(7.36,971),(7.363,959),(7.558,971),(7.592,969),(7.577,965),(7.027,963),(6.025,953),(6.092,957),(6.114,942),(6.262,950),(7.067,953),(7.407,950),(7.792,956),(7.75,948),(7.622,948),(7.861,948),(7.925,958),(7.97,952),(6.025,937),(6.971,947),(7.052,942),(7.089,945),(7.803,942),(7.61,942),(7.429,937),(6.373,932),(6.405,925),(6.262,926),(6.306,929),(6.642,931),(6.897,931),(7.381,931),(7.503,926),(6.594,925),(6.939,923),(7.112,923),(7.074,918),(7.186,923),(7.23,916),(7.301,921),(7.371,919),(7.415,916),(6.565,916),(7.027,913),(7.75,906),(6.18,905),(6.535,900),(6.612,900),(6.717,901),(6.368,897),(6.21,892),(6.295,897),(7.897,900),(7.912,895),(7.321,892),(7.577,893),(7.104,888),(6.275,884),(7.61,887),(7.134,879),(7.215,881),(7.333,876),(7.592,881),(6.007,884),(6.163,879),(7.87,879),(7.973,877),(6.025,870),(6.769,875),(6.912,876),(6.188,864),(6.857,866),(6.451,863),(7.055,868),(6.291,860),(6.321,860),(7.104,858),(7.259,855),(7.341,854),(6.92,847),(7.112,848),(7.732,855),(7.725,847),(7.772,848),(7.935,846),(7.456,841),(6.239,847),(6.284,840),(7.074,840),(7.351,839),(7.775,837),(7.905,837),(7.991,840),
(6.34,829),(6.242,827),(6.39,822),(6.424,827),(6.525,818),(6.651,813),(6.776,815),(6.919,814),(6.091,817),(7.26,829),(7.289,821),(7.122,824),(7.153,824),(7.035,823),(7.023,808),(7.53,813),(7.551,827),(7.607,819),(7.6,803),(7.676,808),(7.824,821),(7.851,813),(7.789,806),(7.245,806),(7.282,803),(7.311,797),(7.38,806),(6.121,787),(6.628,785),(7.149,782),(7.307,786),(7.87,784),(7.06,777),(6.528,774),(6.561,772),(6.636,772),(7.351,770),(7.481,768),(6.89,760),(6.979,760),(7.77,764),(7.803,757),(7.466,758),(6.483,759),(6.627,755),(6.429,753),(7.53,757),(7.092,754),(7.267,757),(7.7,759),(7.688,750),(7.594,751),(7.94,756),(7.415,750),(7.186,750),(7.925,748),(6.582,748),(6.812,747),(6.887,745),(7.236,744),(6.362,741),(7.373,737),(7.984,742),(6.565,735),(6.021,731),(6.146,731),(6.173,732),(6.19,725),(6.35,728),(6.569,730),(6.767,726),(7.762,728),(7.977,726),(6.247,717),(6.547,713),(6.656,719),(7.097,717),(7.156,719),(7.193,724),(7.319,708),(7.367,711),(7.718,710),(6.328,706),(6.927,699),(7.286,698),(7.227,694),(7.981,699),(6.01,685),(6.653,681),(7.085,684),(7.355,682),(7.585,687),(7.687,684),(6.81,679),(7.883,681),(7.907,683),(7.991,677),(7.324,670),(7.817,671),(6.121,652),(6.773,653),(6.904,650),(7.208,652),(7.138,643),(7.562,646),(6.318,640),(6.576,641),(7.942,641),(6.533,622),(6.701,632),(6.984,632),(7.562,626),(7.891,627),(7.67,620),(6.276,614),(6.318,608),(7.441,613),(7.533,610),(7.585,615),(7.595,601),(6.789,606),(7.877,595),(7.041,589),(7.345,588),(7.19,584),(7.475,582),(7.54,582),(7.715,584),(6.142,570),(6.727,572),(7.777,569),(6.56,550),(6.664,550),(6.713,550),(6.764,552),(6.945,548),(7.88,554),(7.961,547),(7.008,542),(7.676,538),(7.491,537),(6.318,532),(7.061,534),(6.885,526),(7.857,526),(6.164,519),(6.993,515),(6.241,506),(6.429,508),(7.345,498),(7.611,490),(6.423,471),(7.165,466),(7.866,474),(7.836,465),(7.311,457),(7.067,448),(6.554,419),(6.671,419),(7.376,406),(7.221,394),(7.237,377)]

GRID = "#b0b0b0"
LW = 4.44
FONT = "DejaVu Sans"
FS = 55.6

fig = go.Figure()

def add(points, colour, size, name):
    fig.add_trace(go.Scatter(
        x=[p[0] for p in points], y=[p[1] for p in points], mode="markers", name=name,
        marker=dict(color=colour, size=size, line=dict(width=0)),
        cliponaxis=False, hoverinfo="skip"))

add(train_mass, "#00ff00", 26, "train mass")
add(train_points, "#00ff00", 10.7, "train")
add(test_points, "#0000ff", 10.7, "test")
add(rotation_points, "#ff00ff", 10.7, "rotation")

# matplotlib draws its grid over the markers, so the grid is repeated above the traces
for v in sorted(x_tick_pos + x_label_pos):
    fig.add_shape(type="line", xref="x", yref="y domain", x0=v, x1=v, y0=0, y1=1,
                  line=dict(color=GRID, width=LW), layer="above")
for v in y_ticks:
    fig.add_shape(type="line", xref="x domain", yref="y", x0=0, x1=1, y0=v, y1=v,
                  line=dict(color=GRID, width=LW), layer="above")

fig.update_layout(
    width=2560, height=1920, autosize=False, showlegend=False,
    margin=dict(l=322.2, r=258.2, t=232.6, b=213.4, pad=0, autoexpand=False),
    paper_bgcolor="white", plot_bgcolor="white",
    font=dict(family=FONT, size=FS, color="black"),
    xaxis=dict(range=[-0.39024, 8.39024], tickmode="array", tickvals=x_label_pos, ticktext=x_labels,
               ticks="outside", ticklen=0, tickwidth=LW, tickcolor="rgba(0,0,0,0)", ticklabelstandoff=-3,
               showgrid=False, zeroline=False, showline=True, linecolor="black", linewidth=LW, mirror=True,
               layer="above traces", automargin=False,
               minor=dict(tickmode="array", tickvals=x_tick_pos, ticks="outside", ticklen=19.4,
                          tickwidth=LW, tickcolor="black", showgrid=False),
               title=dict(text="class_7", standoff=40, font=dict(family=FONT, size=FS))),
    yaxis=dict(range=[135.5, 2988.7], tickmode="array", tickvals=y_ticks,
               ticks="outside", ticklen=19.4, tickwidth=LW, tickcolor="black", ticklabelstandoff=5,
               showgrid=False, zeroline=False, showline=True, linecolor="black", linewidth=LW, mirror=True,
               layer="above traces", automargin=False,
               title=dict(text="dist", standoff=22, font=dict(family=FONT, size=FS))),
)

fig.write_html("out.html", config={"displayModeBar": False}, post_script="document.body.style.margin='0';")
